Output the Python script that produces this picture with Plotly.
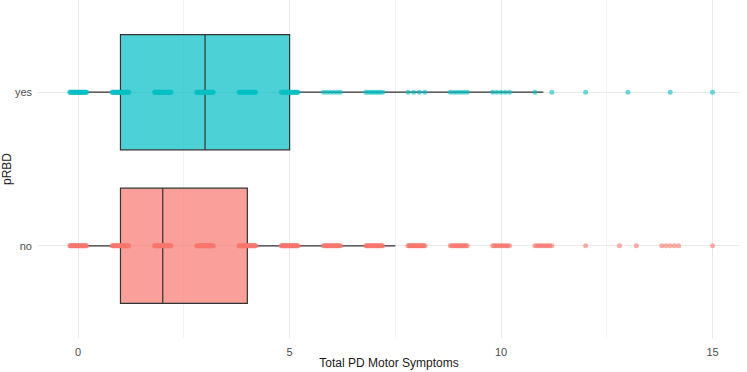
import numpy as np
import plotly.graph_objects as go

# ---- data ----
categories = ["no", "yes"]
cat_pos = [1, 2]
colors = {"no": "#F8766D", "yes": "#00BFC4"}
fills = {"no": "rgba(248,118,109,0.7)", "yes": "rgba(0,191,196,0.7)"}

# box statistics
q1 = {"no": 1, "yes": 1}
median = {"no": 2, "yes": 3}
q3 = {"no": 4, "yes": 5}
lower = {"no": 0, "yes": 0}
upper = {"no": 7.5, "yes": 11}

values = list(range(0, 16))
counts_no = [25, 25, 25, 25, 25, 25, 20, 20, 20, 15, 12, 10, 1, 2, 5, 1]
counts_yes = [25, 25, 25, 25, 25, 20, 6, 8, 4, 6, 5, 2, 1, 1, 1, 1]
counts = {"no": counts_no, "yes": counts_yes}

x_ticks = [0, 5, 10, 15]
jitter_half_width = 0.2

fig = go.Figure()

for cat, pos in zip(categories, cat_pos):
    fig.add_trace(go.Box(
        y=[pos], q1=[q1[cat]], median=[median[cat]], q3=[q3[cat]],
        lowerfence=[lower[cat]], upperfence=[upper[cat]],
        orientation="h", width=0.75, whiskerwidth=0,
        fillcolor=fills[cat], line=dict(color="#333333", width=1.2),
        boxpoints=False, showlegend=False, hoverinfo="skip",
    ))

for cat, pos in zip(categories, cat_pos):
    xs, ys = [], []
    for v, n in zip(values, counts[cat]):
        if n <= 0:
            continue
        offs = [0.0] if n == 1 else np.linspace(-jitter_half_width, jitter_half_width, n)
        for o in offs:
            xs.append(v + o)
            ys.append(pos)
    fig.add_trace(go.Scatter(
        x=xs, y=ys, mode="markers",
        marker=dict(color=colors[cat], size=5, opacity=0.6, line=dict(width=0)),
        showlegend=False, hoverinfo="skip",
    ))

fig.update_layout(
    template="none",
    width=747, height=372,
    margin=dict(l=38, r=7, t=0, b=34, pad=0),
    paper_bgcolor="white", plot_bgcolor="white",
    font=dict(family="Liberation Sans, Arial, sans-serif", color="#4D4D4D", size=11),
    xaxis=dict(
        range=[-0.95, 15.65], tickvals=x_ticks, ticktext=[str(t) for t in x_ticks],
        showgrid=True, gridcolor="#EBEBEB", gridwidth=1, zeroline=False,
        showline=False, ticks="", ticklabelstandoff=6, automargin=False,
        minor=dict(tickvals=[2.5, 7.5, 12.5], showgrid=True, gridcolor="#F3F3F3", gridwidth=1),
        title=dict(text="Total PD Motor Symptoms", font=dict(size=12, color="#1A1A1A"), standoff=1),
        tickfont=dict(size=11, color="#4D4D4D"),
    ),
    yaxis=dict(
        range=[0.4, 2.6], tickvals=cat_pos, ticktext=categories,
        showgrid=True, gridcolor="#EBEBEB", gridwidth=1, zeroline=False,
        showline=False, ticks="", ticklabelstandoff=5, automargin=False,
        title=dict(text="pRBD", font=dict(size=12, color="#1A1A1A"), standoff=0),
        tickfont=dict(size=11, color="#4D4D4D"),
    ),
)

fig.write_html("out.html", config={"displayModeBar": False},
               post_script="document.body.style.margin='0px';")
